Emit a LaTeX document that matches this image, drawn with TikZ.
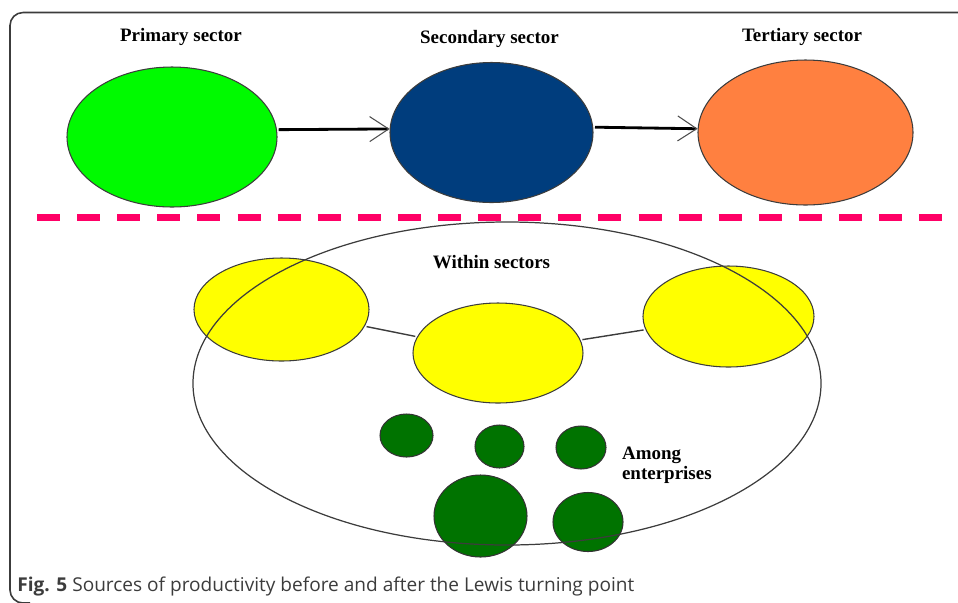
\documentclass[tikz,border=0pt]{standalone}
\usepackage{fontspec}
\setmainfont{Liberation Serif}
\newfontfamily\captionfont{Open Sans}
\usetikzlibrary{shapes.geometric,arrows.meta}
\definecolor{primaryGreen}{RGB}{0,250,0}
\definecolor{secondaryBlue}{RGB}{0,61,125}
\definecolor{tertiaryOrange}{RGB}{255,128,64}
\definecolor{withinYellow}{RGB}{255,255,0}
\definecolor{firmGreen}{RGB}{0,115,0}
\definecolor{turnPink}{RGB}{255,0,102}
\definecolor{edgeGray}{RGB}{60,60,60}
\begin{document}
\begin{tikzpicture}[x=0.2mm, y=-0.2mm,
    sectorStyle/.style={ellipse, draw=edgeGray, line width=0.6pt, inner sep=0pt},
    withinStyle/.style={ellipse, draw=edgeGray, line width=0.6pt, inner sep=0pt, fill=withinYellow},
    firmStyle/.style={ellipse, draw=black!80, line width=0.6pt, inner sep=0pt, fill=firmGreen},
    outerStyle/.style={ellipse, draw=edgeGray, line width=0.7pt, inner sep=0pt, minimum width=125.6mm, minimum height=64.6mm},
    labelStyle/.style={font=\fontsize{10.8}{11.4}\selectfont\bfseries, inner sep=0pt},
    arrowStyle/.style={line width=1.6pt, shorten <=1pt, -{Straight Barb[length=3.8mm, width=5mm, line width=0.6pt, color=black!70]}},
    linkStyle/.style={draw=edgeGray, line width=0.8pt, shorten <=1pt, shorten >=1pt}]
    \useasboundingbox (0,0) rectangle (958,602);
    \draw[edgeGray, line width=0.9pt, rounded corners=2.6mm] (958,12.5) -| (10,603) -- (30,603);
    \node[sectorStyle, fill=primaryGreen, minimum width=42mm, minimum height=28mm]     (sector_0) at (172,137)   {};
    \node[sectorStyle, fill=secondaryBlue, minimum width=40.6mm, minimum height=28mm]  (sector_1) at (491.5,132.5) {};
    \node[sectorStyle, fill=tertiaryOrange, minimum width=43mm, minimum height=29mm]   (sector_2) at (805.5,132.5) {};
    \node[labelStyle, anchor=base] (sector_L0) at (181,41.5) {Primary sector};
    \node[labelStyle, anchor=base] (sector_L1) at (489.5,43.5) {Secondary sector};
    \node[labelStyle, anchor=base] (sector_L2) at (802,41) {Tertiary sector};
    \draw[arrowStyle] (sector_0.4) -- (sector_1.178);
    \draw[arrowStyle] (sector_1.3) -- (sector_2.178);
    \draw[turnPink, line width=1.4mm, dash pattern=on 4.6mm off 3.42mm] (37,217.5) -- (943,217.5);
    \node[withinStyle, minimum width=35mm, minimum height=20.6mm] (within_0) at (281.5,309.5) {};
    \node[withinStyle, minimum width=34mm, minimum height=20mm]   (within_1) at (498,353)     {};
    \node[withinStyle, minimum width=34.2mm, minimum height=20.2mm] (within_2) at (728.5,316.5) {};
    \draw[linkStyle] (within_0) -- (within_1);
    \draw[linkStyle] (within_1) -- (within_2);
    \node[firmStyle, minimum width=10.6mm, minimum height=8.6mm] (firm_0) at (406.5,435.5) {};
    \node[firmStyle, minimum width=9.8mm, minimum height=8.6mm]  (firm_1) at (499.5,446.5) {};
    \node[firmStyle, minimum width=10mm, minimum height=8.6mm]   (firm_2) at (581,447.5)   {};
    \node[firmStyle, minimum width=18.6mm, minimum height=16.4mm] (firm_3) at (480.5,516)  {};
    \node[firmStyle, minimum width=14mm, minimum height=11.8mm]  (firm_4) at (588,522)     {};
    \node[outerStyle] (within_all) at (507,383.5) {};
    \node[labelStyle, anchor=base, fill=white, inner sep=1.5mm] (within_L) at (491.5,268) {Within sectors};
    \node[labelStyle, anchor=north west, align=left, fill=white] (firm_L) at (621.7,446.5) {Among\\enterprises};
    \node[anchor=base west, inner sep=0pt, text=edgeGray, font=\captionfont\fontsize{10.85}{13}\selectfont] (caption) at (17,591)
        {\textbf{Fig. 5} Sources of productivity before and after the Lewis turning point};
\end{tikzpicture}
\end{document}
